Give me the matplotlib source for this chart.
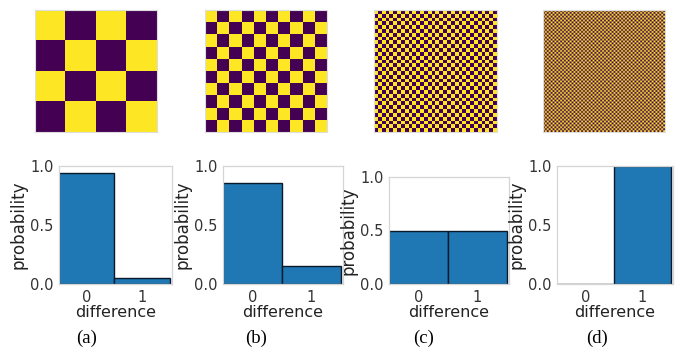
import numpy as np
import matplotlib
matplotlib.use("Agg")
import matplotlib.pyplot as plt

plt.rcParams["font.family"] = ["DejaVu Sans"]

# Checkerboard patterns (cells per side) and the histogram of neighbour differences
checker_sizes = [4, 10, 32, 64]
diff_values = [0, 1]
prob_a = [0.94, 0.05]
prob_b = [0.855, 0.155]
prob_c = [0.5, 0.5]
prob_d = [0.0, 1.0]
probs = [prob_a, prob_b, prob_c, prob_d]
panel_labels = ["(a)", "(b)", "(c)", "(d)"]
ytick_values = [0.0, 0.5, 1.0]
ytick_labels = ["0.0", "0.5", "1.0"]

W, H = 683, 352
fig = plt.figure(figsize=(W / 100, H / 100), dpi=100)


def px_axes(left, top, right, bottom):
    return fig.add_axes([left / W, 1 - bottom / H, (right - left) / W, (bottom - top) / H])


# image panel boxes (left, top, right, bottom) in pixels
img_boxes = [(35, 10, 157, 132), (205, 10, 327, 132), (374, 10, 497, 132), (543, 10, 665, 132)]
# histogram axes boxes
hist_boxes = [(59, 166, 172, 284), (223, 166, 343, 284), (389, 177, 509, 284), (557, 166, 673, 284)]
caption_x = [87, 256, 424, 597]

for n, box in zip(checker_sizes, img_boxes):
    ax = px_axes(*box)
    i, j = np.indices((n, n))
    board = ((i + j) % 2 == 0).astype(float)
    ax.imshow(board, cmap="viridis", interpolation="antialiased",
              interpolation_stage="rgba", aspect="auto")
    ax.set_xticks([])
    ax.set_yticks([])
    for s in ax.spines.values():
        s.set_color("#dddddd")
        s.set_linewidth(0.8)

for p, box, cx, lab in zip(probs, hist_boxes, caption_x, panel_labels):
    ax = px_axes(*box)
    ax.bar(diff_values, p, width=1.0, color="#1f77b4", edgecolor="#0a1a2a", linewidth=1.0)
    ax.set_xlim(-0.5, 1.54)
    ax.set_ylim(0, 1.0)
    ax.set_xticks(diff_values)
    ax.set_yticks(ytick_values)
    ax.set_yticklabels(ytick_labels)
    ax.tick_params(length=0, pad=4, labelsize=10.5, colors="#333333")
    ax.set_xlabel("difference", fontsize=11.5, labelpad=0, color="#222222")
    ax.set_ylabel("probability", fontsize=12, labelpad=2, color="#222222")
    for s in ax.spines.values():
        s.set_color("#d5d5d5")
        s.set_linewidth(0.9)
    fig.text(cx / W, 1 - 338 / H, lab, ha="center", va="center",
             fontsize=13.5, family="Liberation Serif")

fig.savefig("out.png", dpi=100)
